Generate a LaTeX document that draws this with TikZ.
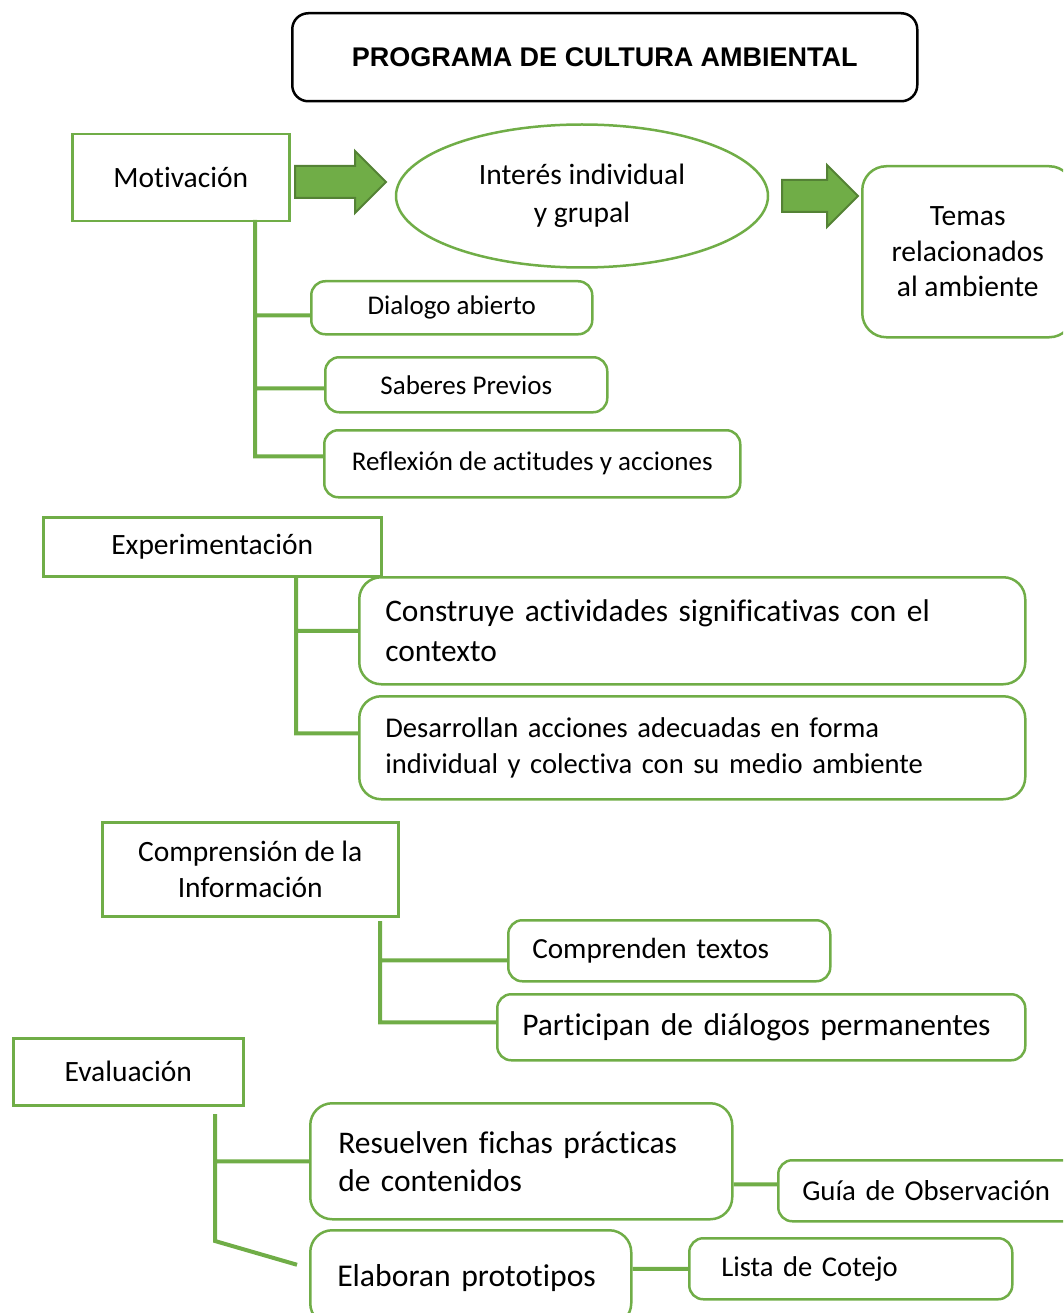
\documentclass[tikz,border=0pt]{standalone}
\usepackage{fontspec}
\setmainfont{Carlito}[Ligatures={NoCommon,NoRequired,NoContextual}]
\newfontfamily\titlefont{Liberation Sans}
\usetikzlibrary{shapes.geometric,shapes.arrows}
\definecolor{leaf}{RGB}{112,173,71}
\definecolor{leafdark}{RGB}{84,130,53}
\tikzset{
  sbox/.style={draw=leaf, line width=2.5pt, inner sep=0pt, anchor=north west, align=center,
    font=\fontsize{29.5}{36}\selectfont},
  rbox/.style={sbox, rounded corners=14pt},
  lbox/.style={align=left, inner xsep=26pt},
  link/.style={draw=leaf, line width=4pt},
  bigarrow/.style={single arrow, draw=leafdark, fill=leaf, line width=2pt, inner xsep=0pt, inner ysep=15pt,
    single arrow head extend=15pt, single arrow tip angle=90, single arrow head indent=0pt}
}
\begin{document}
\begin{tikzpicture}[x=1pt, y=-1pt]
  \clip (0,0) rectangle (1063,1313);
  \node[draw=black, line width=2.5pt, rounded corners=16pt, minimum width=625pt, minimum height=88pt,
    anchor=north west, font=\titlefont\bfseries\fontsize{27}{32}\selectfont] (title) at (291,12)
    {PROGRAMA DE CULTURA AMBIENTAL};

  \node[sbox, minimum width=217pt, minimum height=87pt] (mot) at (71,133) {Motivación};
  \node[bigarrow, minimum height=91pt] (arr1) at (332.5,182) {};
  \node[ellipse, draw=leaf, line width=2.5pt, minimum width=372pt, minimum height=143pt, align=center,
    font=\fontsize{29.5}{38}\selectfont] (int) at (582,196) {Interés individual\\y grupal};
  \node[bigarrow, minimum height=76pt] (arr2) at (812,196) {};
  \node[rbox, rounded corners=24pt, minimum width=211pt, minimum height=171pt,
    font=\fontsize{29.5}{35.5}\selectfont] (temas) at (861,165) {Temas\\relacionados\\al ambiente};

  \node[rbox, minimum width=281pt, minimum height=53pt, font=\fontsize{27}{32}\selectfont] (dial) at (310,280) {Dialogo abierto};
  \node[rbox, minimum width=282pt, minimum height=55pt, font=\fontsize{27}{32}\selectfont] (sab) at (324,356) {Saberes Previos};
  \node[rbox, minimum width=416pt, minimum height=67pt, font=\fontsize{27}{32}\selectfont] (refl) at (323,429) {Reflexión de actitudes y acciones};

  \node[sbox, minimum width=338pt, minimum height=59pt] (exp) at (42,516) {Experimentación};
  \node[rbox, lbox, rounded corners=22pt, text width=614pt, minimum height=107pt,
    font=\fontsize{31.4}{40}\selectfont] (cons) at (358,576) {Construye actividades significativas con el\\contexto};
  \node[rbox, lbox, rounded corners=22pt, text width=614pt, minimum height=103pt,
    font=\fontsize{28.6}{36}\selectfont] (des) at (358,695) {Desarrollan acciones adecuadas en forma\\individual y colectiva con su medio ambiente};

  \node[sbox, minimum width=296pt, minimum height=94pt] (comp) at (101,821) {Comprensión de la\\Información};
  \node[rbox, lbox, inner xsep=24pt, text width=274pt, minimum height=61pt,
    font=\fontsize{29.2}{36}\selectfont] (compt) at (507,919) {Comprenden textos};
  \node[rbox, lbox, inner xsep=25pt, text width=478pt, minimum height=66pt,
    font=\fontsize{31.5}{38}\selectfont] (part) at (496,993) {Participan de diálogos permanentes};

  \node[sbox, minimum width=230pt, minimum height=67pt] (eval) at (12,1037) {Evaluación};
  \node[rbox, lbox, inner xsep=28pt, rounded corners=22pt, text width=366pt, minimum height=116pt,
    font=\fontsize{31.5}{38}\selectfont] (res) at (309,1102) {Resuelven fichas prácticas\\de contenidos};
  \node[rbox, lbox, inner xsep=24pt, text width=252pt, minimum height=61pt,
    font=\fontsize{28.8}{35}\selectfont] (guia) at (777,1159) {Guía de Observación};
  \node[rbox, lbox, inner xsep=27pt, rounded corners=22pt, text width=267pt, minimum height=95pt,
    font=\fontsize{31.7}{38}\selectfont] (elab) at (309,1229) {Elaboran prototipos};
  \node[rbox, lbox, inner xsep=32pt, text width=259pt, minimum height=61pt,
    font=\fontsize{28.6}{35}\selectfont] (lista) at (688,1237) {Lista de Cotejo};

  \coordinate (mtop) at (255,220);
  \coordinate (etop) at (296,575);
  \coordinate (ctop) at (380,921);
  \coordinate (vtop) at (215,1114);
  \coordinate (vbot) at (215,1241);
  \draw[link]
  (mtop) |- ([yshift=-7.5pt]dial.west)
  (mtop) |- ([yshift=-3.5pt]sab.west)
  (mtop) |- ([yshift=7.5pt]refl.west)
  (etop) |- (cons.west)
  (etop) |- ([yshift=14.5pt]des.west)
  (ctop) |- ([yshift=-9.5pt]compt.west)
  (ctop) |- ([yshift=5pt]part.west)
  (vtop) |- (res.west)
  (vtop) -- (vbot) -- ([xshift=-12pt,yshift=13pt]elab.west)
  ([yshift=6.5pt]guia.west -| res.east) -- ([yshift=6.5pt]guia.west)
  (lista.west -| elab.east) -- (lista.west);
\end{tikzpicture}
\end{document}
